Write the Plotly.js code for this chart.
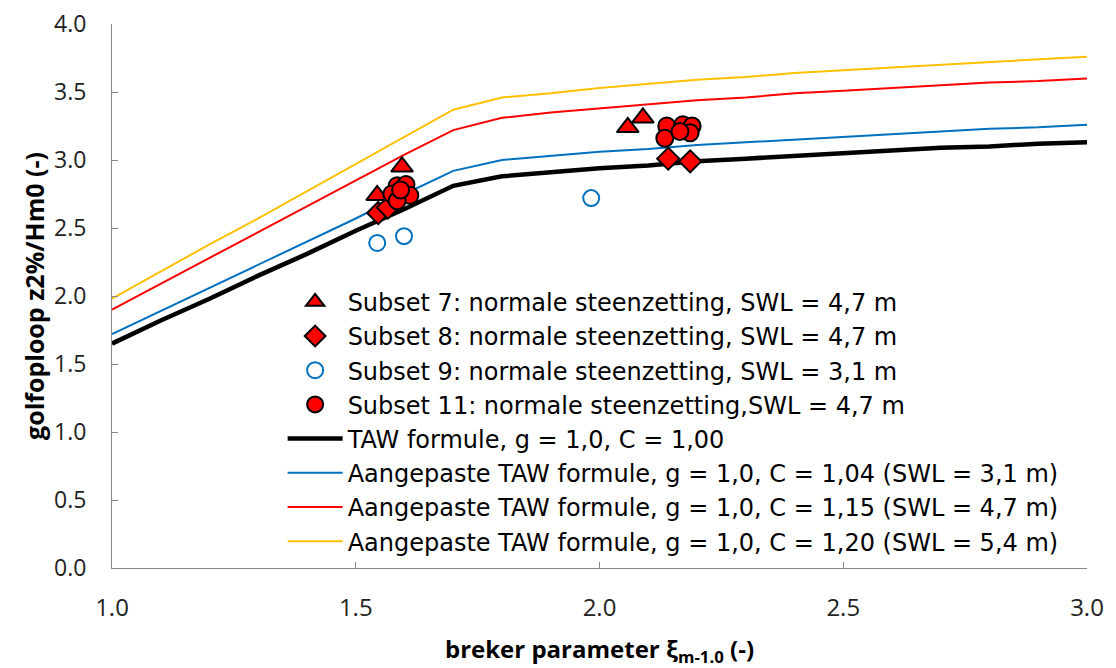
<!DOCTYPE html>
<html>
<head>
<meta charset="utf-8">
<script src="https://cdn.plot.ly/plotly-3.0.1.min.js"></script>
<style>html,body{margin:0;padding:0;background:#fff}#chart{width:1116px;height:668px}</style>
</head>
<body>
<div id="chart"></div>
<script>
// breker parameter values for the formula lines
const xi = [1.0,1.1,1.2,1.3,1.4,1.5,1.6,1.7,1.8,1.9,2.0,2.1,2.2,2.3,2.4,2.5,2.6,2.7,2.8,2.9,3.0];
const tawC100 = [1.65,1.82,1.98,2.15,2.31,2.48,2.64,2.81,2.88,2.91,2.94,2.96,2.99,3.01,3.03,3.05,3.07,3.09,3.10,3.12,3.13];
const tawC104 = [1.72,1.89,2.06,2.23,2.40,2.57,2.75,2.92,3.00,3.03,3.06,3.08,3.11,3.13,3.15,3.17,3.19,3.21,3.23,3.24,3.26];
const tawC115 = [1.90,2.09,2.28,2.47,2.66,2.85,3.04,3.22,3.31,3.35,3.38,3.41,3.44,3.46,3.49,3.51,3.53,3.55,3.57,3.58,3.60];
const tawC120 = [1.98,2.18,2.38,2.57,2.77,2.97,3.17,3.37,3.46,3.49,3.53,3.56,3.59,3.61,3.64,3.66,3.68,3.70,3.72,3.74,3.76];

const s7x = [1.544,1.595,2.058,2.089];
const s7y = [2.74,2.95,3.24,3.31];
const s8x = [1.546,1.566,2.141,2.186];
const s8y = [2.61,2.65,3.01,2.99];
const s9x = [1.544,1.599,1.983];
const s9y = [2.39,2.44,2.72];
const s11x = [1.585,1.603,1.574,1.611,1.585,1.592,2.138,2.171,2.190,2.134,2.186,2.165];
const s11y = [2.81,2.82,2.75,2.74,2.70,2.78,3.25,3.26,3.25,3.16,3.20,3.21];

const xTicks = [1.0,1.5,2.0,2.5,3.0];
const yTicks = [0.0,0.5,1.0,1.5,2.0,2.5,3.0,3.5,4.0];

const names = {
  s7: 'Subset 7: normale steenzetting, SWL = 4,7 m',
  s8: 'Subset 8: normale steenzetting, SWL = 4,7 m',
  s9: 'Subset 9: normale steenzetting, SWL = 3,1 m',
  s11: 'Subset 11: normale steenzetting,SWL = 4,7 m',
  t100: 'TAW formule, g = 1,0, C = 1,00',
  t104: 'Aangepaste TAW formule, g = 1,0, C = 1,04 (SWL = 3,1 m)',
  t115: 'Aangepaste TAW formule, g = 1,0, C = 1,15 (SWL = 4,7 m)',
  t120: 'Aangepaste TAW formule, g = 1,0, C = 1,20 (SWL = 5,4 m)'
};

const data = [
  {x: xi, y: tawC120, mode:'lines', name: names.t120, legendrank: 8, line:{color:'#FFC000', width:2}},
  {x: xi, y: tawC115, mode:'lines', name: names.t115, legendrank: 7, line:{color:'#FF0000', width:2}},
  {x: xi, y: tawC104, mode:'lines', name: names.t104, legendrank: 6, line:{color:'#0070C0', width:2}},
  {x: xi, y: tawC100, mode:'lines', name: names.t100, legendrank: 5, line:{color:'#000000', width:4.5}},
  {x: s9x, y: s9y, mode:'markers', name: names.s9, legendrank: 3,
   marker:{symbol:'circle-open', size:16, color:'#0070C0', line:{width:2, color:'#0070C0'}}},
  {x: s8x, y: s8y, mode:'markers', name: names.s8, legendrank: 2,
   marker:{symbol:'diamond', size:17, color:'#FF0000', line:{width:2, color:'#000000'}}},
  {x: s7x, y: s7y, mode:'markers', name: names.s7, legendrank: 1,
   marker:{symbol:'triangle-up', size:19, color:'#FF0000', line:{width:2, color:'#000000'}}},
  {x: s11x, y: s11y, mode:'markers', name: names.s11, legendrank: 4,
   marker:{symbol:'circle', size:17, color:'#FF0000', line:{width:2, color:'#000000'}}}
];

const layout = {
  width: 1116, height: 668,
  margin: {l:112, r:29, t:24, b:100},
  paper_bgcolor:'#ffffff', plot_bgcolor:'#ffffff',
  font: {family:'"Open Sans", sans-serif', color:'#000000'},
  showlegend: true,
  legend: {
    x: 0.175, y: 0.53, xanchor:'left', yanchor:'top',
    bgcolor:'rgba(0,0,0,0)', borderwidth:0,
    font:{family:'"DejaVu Sans", sans-serif', size:24, color:'#000000'},
    tracegroupgap: 0, itemwidth: 55
  },
  xaxis: {
    range:[1.0,3.0], tickvals: xTicks, ticktext: xTicks.map(v=>v.toFixed(1)),
    showgrid:false, zeroline:false, showline:true, linecolor:'#888888', linewidth:1,
    ticks:'inside', ticklen:6, tickcolor:'#888888', mirror:false,
    ticklabelstandoff: 18,
    tickfont:{family:'"Open Sans", sans-serif', size:24, color:'#222222'},
    title:{text:'<b>breker parameter ξ<sub>m-1.0</sub> (-)</b>', standoff: 19,
      font:{family:'"Open Sans", sans-serif', size:24, color:'#000000'}}
  },
  yaxis: {
    range:[0,4.0], tickvals: yTicks, ticktext: yTicks.map(v=>v.toFixed(1)),
    showgrid:false, zeroline:false, showline:true, linecolor:'#888888', linewidth:1,
    ticks:'inside', ticklen:6, tickcolor:'#888888',
    ticklabelstandoff: 20,
    tickfont:{family:'"Open Sans", sans-serif', size:23, color:'#222222'},
    title:{text:'<b>golfoploop z2%/Hm0 (-)</b>', standoff: 2,
      font:{family:'"Open Sans", sans-serif', size:25, color:'#000000'}}
  }
};

Plotly.newPlot('chart', data, layout, {displayModeBar:false, staticPlot:true});
</script>
</body>
</html>
